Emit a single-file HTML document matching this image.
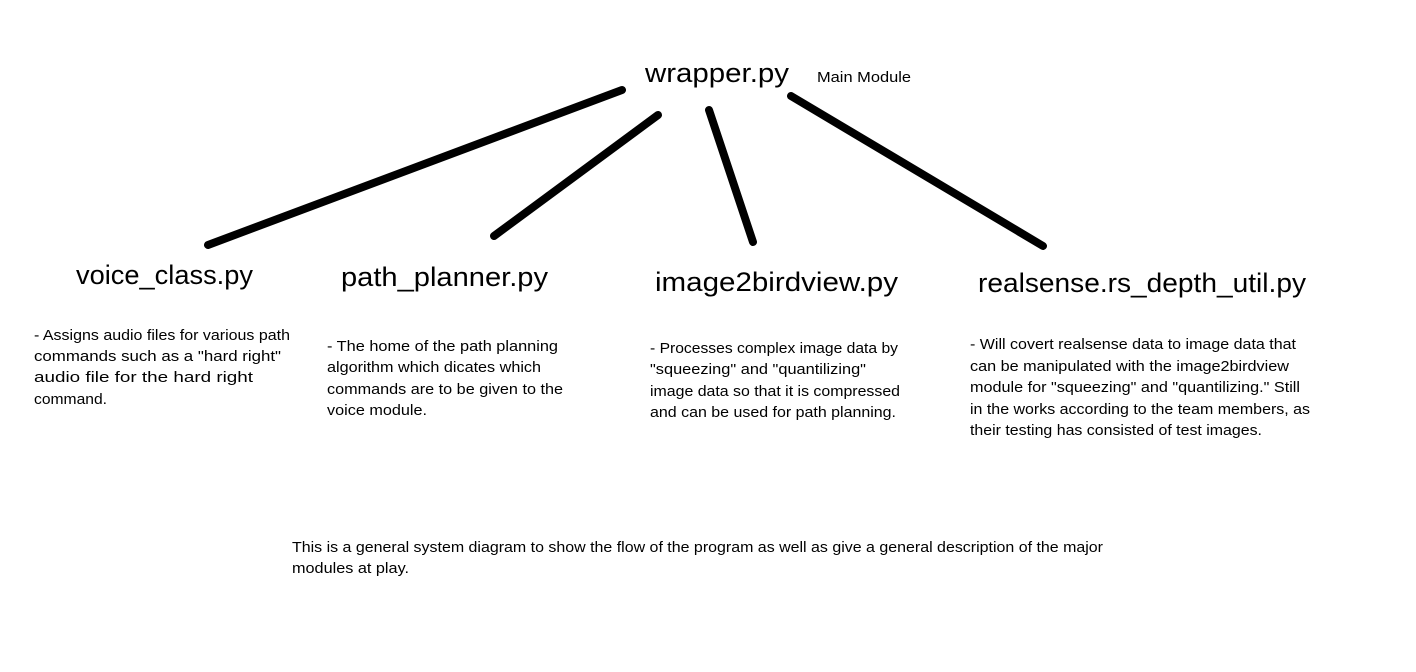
<!DOCTYPE html>
<html><head><meta charset="utf-8"><style>
html,body{margin:0;padding:0;background:#fff;width:1416px;height:672px;overflow:hidden}
text{font-family:"Liberation Sans",sans-serif;fill:#000}
.b{font-size:15px}
.t{font-size:27px}
</style></head><body>
<svg width="1416" height="672" xmlns="http://www.w3.org/2000/svg">
<g stroke="#000" stroke-width="8" stroke-linecap="round">
<line x1="622" y1="90" x2="208" y2="245"/>
<line x1="658" y1="115" x2="494" y2="236"/>
<line x1="709" y1="110" x2="753" y2="242"/>
<line x1="791" y1="96" x2="1043" y2="246"/>
</g>
<g lengthAdjust="spacingAndGlyphs">
<text class="t" x="645" y="82" textLength="144" lengthAdjust="spacingAndGlyphs">wrapper.py</text>
<text class="b" x="817" y="82" font-size="14" textLength="94" lengthAdjust="spacingAndGlyphs">Main Module</text>
<text class="t" x="76" y="284" textLength="177" lengthAdjust="spacingAndGlyphs">voice_class.py</text>
<text class="t" x="341" y="286" textLength="207" lengthAdjust="spacingAndGlyphs">path_planner.py</text>
<text class="t" x="655" y="291" textLength="243" lengthAdjust="spacingAndGlyphs">image2birdview.py</text>
<text class="t" x="978" y="292" textLength="328" lengthAdjust="spacingAndGlyphs">realsense.rs_depth_util.py</text>

<text class="b" x="34" y="340" textLength="256" lengthAdjust="spacingAndGlyphs">- Assigns audio files for various path</text>
<text class="b" x="34" y="361" textLength="247" lengthAdjust="spacingAndGlyphs">commands such as a "hard right"</text>
<text class="b" x="34" y="382" textLength="219" lengthAdjust="spacingAndGlyphs">audio file for the hard right</text>
<text class="b" x="34" y="404" textLength="73" lengthAdjust="spacingAndGlyphs">command.</text>

<text class="b" x="327" y="351" textLength="231" lengthAdjust="spacingAndGlyphs">- The home of the path planning</text>
<text class="b" x="327" y="372" textLength="214" lengthAdjust="spacingAndGlyphs">algorithm which dicates which</text>
<text class="b" x="327" y="394" textLength="236" lengthAdjust="spacingAndGlyphs">commands are to be given to the</text>
<text class="b" x="327" y="415" textLength="100" lengthAdjust="spacingAndGlyphs">voice module.</text>

<text class="b" x="650" y="353" textLength="248" lengthAdjust="spacingAndGlyphs">- Processes complex image data by</text>
<text class="b" x="650" y="374" textLength="216" lengthAdjust="spacingAndGlyphs">"squeezing" and "quantilizing"</text>
<text class="b" x="650" y="396" textLength="250" lengthAdjust="spacingAndGlyphs">image data so that it is compressed</text>
<text class="b" x="650" y="417" textLength="246" lengthAdjust="spacingAndGlyphs">and can be used for path planning.</text>

<text class="b" x="970" y="349" textLength="326" lengthAdjust="spacingAndGlyphs">- Will covert realsense data to image data that</text>
<text class="b" x="970" y="371" textLength="319" lengthAdjust="spacingAndGlyphs">can be manipulated with the image2birdview</text>
<text class="b" x="970" y="392" textLength="330" lengthAdjust="spacingAndGlyphs">module for "squeezing" and "quantilizing." Still</text>
<text class="b" x="970" y="414" textLength="340" lengthAdjust="spacingAndGlyphs">in the works according to the team members, as</text>
<text class="b" x="970" y="435" textLength="292" lengthAdjust="spacingAndGlyphs">their testing has consisted of test images.</text>

<text class="b" x="292" y="552" textLength="811" lengthAdjust="spacingAndGlyphs">This is a general system diagram to show the flow of the program as well as give a general description of the major</text>
<text class="b" x="292" y="573" textLength="117" lengthAdjust="spacingAndGlyphs">modules at play.</text>
</g>
</svg>
</body></html>
